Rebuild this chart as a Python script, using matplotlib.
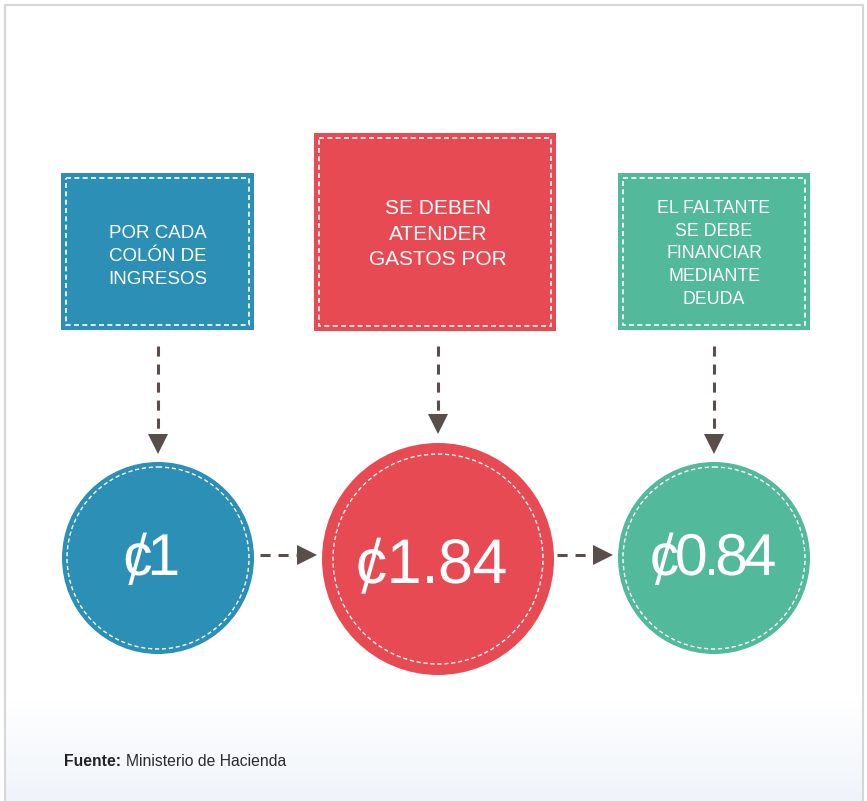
import numpy as np
import matplotlib.pyplot as plt
from matplotlib.patches import Rectangle, Circle, Polygon, PathPatch
from matplotlib.textpath import TextPath
from matplotlib.font_manager import FontProperties
from matplotlib.transforms import Affine2D
from matplotlib.path import Path

plt.rcParams['font.family'] = ['Liberation Sans', 'DejaVu Sans']

# datos
box_texts = ["POR CADA\nCOLÓN DE\nINGRESOS",
             "SE DEBEN\nATENDER\nGASTOS POR",
             "EL FALTANTE\nSE DEBE\nFINANCIAR\nMEDIANTE\nDEUDA"]
values = [1, 1.84, 0.84]
value_labels = ["¢1", "¢1.84", "¢0.84"]
colors = ["#2B8FB6", "#E84A53", "#52B99A"]
source = "Ministerio de Hacienda"

# layout (pixeles)
cx = [158, 438, 714]
box_rect = [(61, 173, 193, 157), (314, 133, 242, 198), (618, 173, 192, 157)]
box_fs = [13.5, 15.0, 12.8]
box_ls = [1.43, 1.43, 1.44]
box_text_y = [256.5, 234, 254]
circ_cy = [558, 559, 558]
circ_r = [96, 116, 96]
ring_in = [5, 11, 5]
val_px = [59, 63, 59]          # tamaño en px
val_base = [575, 583, 575]     # linea base
val_cx = [151.5, 432, 713.5]
val_track = [-0.09, -0.01, -0.075]
arrow_col = "#5A4E4A"

fig = plt.figure(figsize=(8.67, 8.01), dpi=100)
ax = fig.add_axes([0, 0, 1, 1])
ax.set_xlim(0, 867)
ax.set_ylim(801, 0)
ax.axis('off')

# fondo con degradado abajo
grad = np.linspace(0, 1, 100)[:, None]
c0 = np.array([1.0, 1.0, 1.0])
c1 = np.array([0.94, 0.955, 0.98])
img = c0 + (c1 - c0) * grad[..., None]
ax.imshow(np.repeat(img, 2, axis=1), extent=(5, 862, 801, 700), aspect='auto', zorder=0)
ax.plot([4.5, 4.5, 862.5, 862.5], [801, 4.5, 4.5, 801], color="#D6D6D6", lw=1.5, zorder=1)

fp = FontProperties(family='Liberation Sans')
adv = {'.': 0.278, '¢': 0.5}  # resto de glifos 0.556 em


def value_text(s, size, xc, base, track=-0.01):
    # cada letra como path; el ¢ se arma con una c y una barra inclinada
    paths, x = [], 0.0
    for ch in s:
        if ch == '¢':
            p = TextPath((x, 0), 'c', size=size, prop=fp)
            e = p.get_extents()
            w = e.x1 - e.x0
            t = 0.065 * size
            bx, tx = e.x0 + 0.18 * w, e.x0 + 0.76 * w
            yb, yt = -0.17 * size, 0.72 * size
            paths.append(p)
            paths.append(Path([(bx - t / 2, yb), (bx + t / 2, yb), (tx + t / 2, yt),
                               (tx - t / 2, yt), (bx - t / 2, yb)], closed=True))
        else:
            paths.append(TextPath((x, 0), ch, size=size, prop=fp))
        x += (adv.get(ch, 0.556) + track) * size
    x0 = min(p.get_extents().x0 for p in paths)
    x1 = max(p.get_extents().x1 for p in paths)
    dx = xc - (x0 + x1) / 2
    tr = Affine2D().scale(1, -1).translate(dx, base) + ax.transData
    for p in paths:
        ax.add_patch(PathPatch(p, facecolor='white', edgecolor='none', transform=tr, zorder=4))


def dashed_arrow(x0, y0, x1, y1):
    d = np.array([x1 - x0, y1 - y0], dtype=float)
    u = d / np.hypot(*d)
    n = np.array([-u[1], u[0]])
    head = 20
    tip = np.array([x1, y1])
    base = tip - u * head
    ax.plot([x0, base[0]], [y0, base[1]], color=arrow_col, lw=2.2,
            dashes=(3.3, 2.6), solid_capstyle='butt', zorder=3)
    ax.add_patch(Polygon([tip, base + n * 10, base - n * 10], closed=True,
                         color=arrow_col, lw=0, zorder=3))


for i in range(3):
    x, y, w, h = box_rect[i]
    ax.add_patch(Rectangle((x, y), w, h, facecolor=colors[i], edgecolor='none', zorder=2))
    ax.add_patch(Rectangle((x + 5, y + 5), w - 10, h - 10, facecolor='none',
                           edgecolor='white', lw=1.2, linestyle=(0, (3, 2)), zorder=3))
    ax.text(cx[i], box_text_y[i], box_texts[i], color='white', fontsize=box_fs[i],
            ha='center', va='center', linespacing=box_ls[i], zorder=4)

    ax.add_patch(Circle((cx[i], circ_cy[i]), circ_r[i], facecolor=colors[i],
                        edgecolor='none', zorder=2))
    ax.add_patch(Circle((cx[i], circ_cy[i]), circ_r[i] - ring_in[i], facecolor='none',
                        edgecolor='white', lw=1.0, linestyle=(0, (3, 2)), zorder=3))
    value_text(value_labels[i], val_px[i], val_cx[i], val_base[i], val_track[i])

# flechas verticales
dashed_arrow(cx[0], 346, cx[0], 454)
dashed_arrow(cx[1], 346, cx[1], 434)
dashed_arrow(cx[2], 346, cx[2], 454)
# flechas horizontales
dashed_arrow(260, 555, 317, 555)
dashed_arrow(557, 555, 613, 555)

ax.text(64, 762, "Fuente:", fontsize=11.3, fontweight='bold', color="#222222",
        ha='left', va='center', zorder=4)
ax.text(126, 762, source, fontsize=11.3, color="#2A2A2A", ha='left', va='center', zorder=4)

fig.savefig("out.png", dpi=100)
